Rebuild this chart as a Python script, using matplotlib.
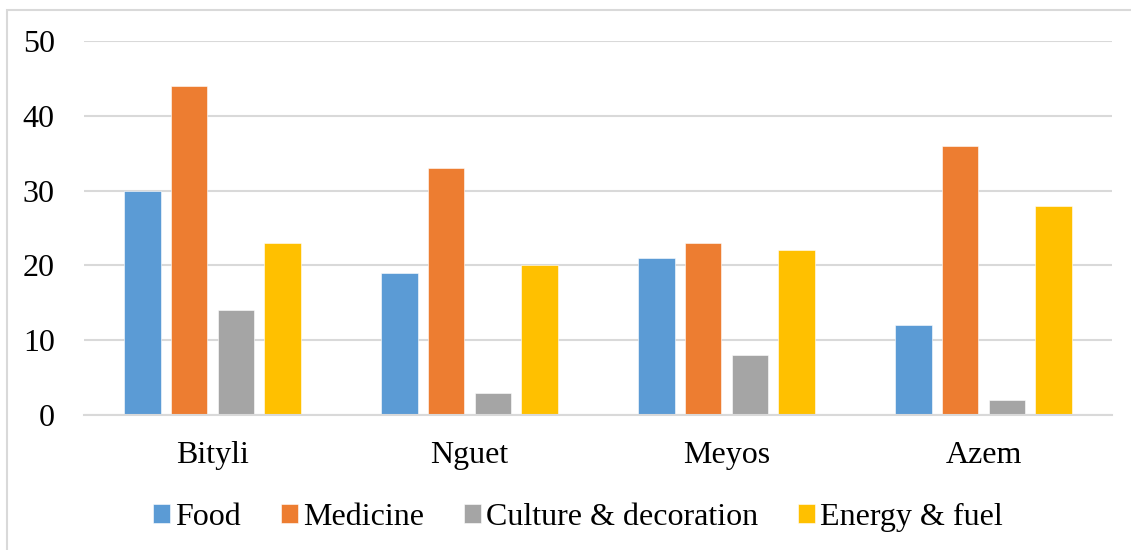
import matplotlib
matplotlib.use("Agg")
import matplotlib.pyplot as plt
from matplotlib.patches import Rectangle
import numpy as np

categories = ["Bityli", "Nguet", "Meyos", "Azem"]
series_names = ["Food", "Medicine", "Culture & decoration", "Energy & fuel"]
food = [30, 19, 21, 12]
medicine = [44, 33, 23, 36]
culture = [14, 3, 8, 2]
energy = [23, 20, 22, 28]
y_ticks = [0, 10, 20, 30, 40, 50]

colors = ["#5B9BD5", "#ED7D31", "#A5A5A5", "#FFC000"]
grid_color = "#D9D9D9"

plt.rcParams["font.family"] = ["Liberation Serif", "DejaVu Serif"]

W, H, DPI = 1131, 550, 100
fig = plt.figure(figsize=(W / DPI, H / DPI), dpi=DPI)

# outer chart frame
fig.patches.append(Rectangle((7 / W, -0.1), 1.2, (H - 10) / H + 0.1,
                             transform=fig.transFigure, fill=False,
                             edgecolor=grid_color, linewidth=1.5))

left, right = 84, 1112
top, bottom = 41, 415
ax = fig.add_axes([left / W, 1 - bottom / H, (right - left) / W, (bottom - top) / H])

x = np.arange(len(categories))
bar_w = 0.142
step = 0.182
all_series = [food, medicine, culture, energy]
for i, (vals, name, c) in enumerate(zip(all_series, series_names, colors)):
    ax.bar(x + (i - 1.5) * step, vals, width=bar_w, color=c, label=name,
           edgecolor="white", linewidth=0.4, zorder=3)

ax.set_xlim(-0.5, len(categories) - 0.5)
ax.set_ylim(0, 50)
ax.set_yticks(y_ticks)
ax.set_xticks(x)
ax.set_xticklabels(categories)
ax.tick_params(axis="both", length=0, labelsize=23, colors="black")
ax.tick_params(axis="x", pad=19)
ax.tick_params(axis="y", pad=21)

ax.grid(axis="y", color=grid_color, linewidth=1.5, zorder=0)
for s in ["top", "right", "left"]:
    ax.spines[s].set_visible(False)
ax.spines["bottom"].set_color(grid_color)
ax.spines["bottom"].set_linewidth(1.5)
ax.spines["bottom"].set_zorder(4)

fig.legend(loc="center", bbox_to_anchor=(578 / W, 1 - 517 / H), ncol=4,
           frameon=False, fontsize=23, handlelength=0.53, handleheight=0.53,
           handletextpad=0.16, columnspacing=1.25)

fig.savefig("out.png", dpi=DPI)
